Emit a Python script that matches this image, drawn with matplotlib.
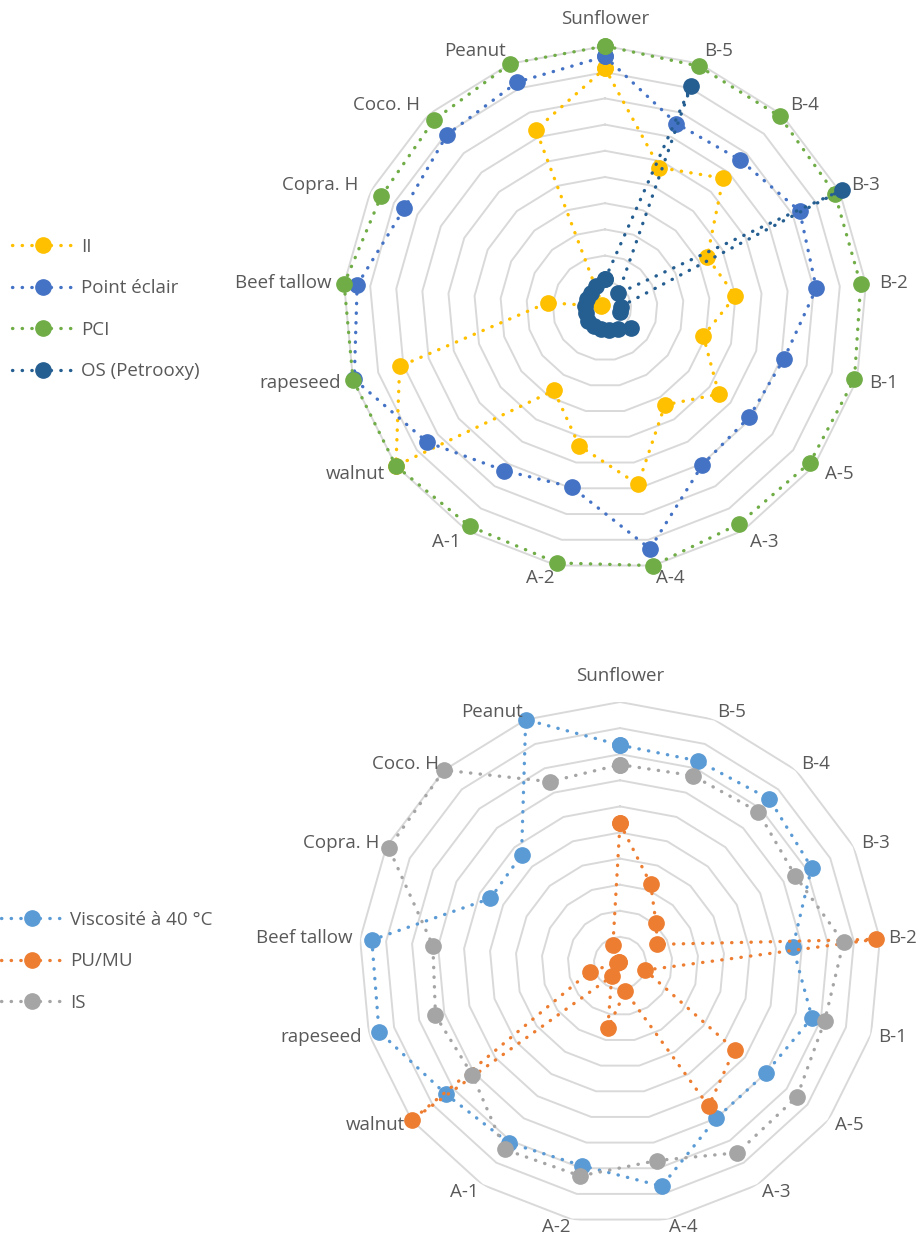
import matplotlib
matplotlib.use("Agg")
import matplotlib.pyplot as plt
import numpy as np

plt.rcParams["font.family"] = ["Open Sans", "DejaVu Sans"]

# ---- data (values on a 0-10 ring scale) ----
categories = ["Sunflower", "B-5", "B-4", "B-3", "B-2", "B-1", "A-5", "A-3", "A-4",
              "A-2", "A-1", "walnut", "rapeseed", "Beef tallow", "Copra. H",
              "Coco. H", "Peanut"]

ii = [9.15, 5.75, 6.7, 4.35, 5.0, 3.9, 5.45, 4.35, 6.85, 5.35, 3.7, 10.0, 8.15, 2.2, 0.15, 0.15, 7.3]
point_eclair = [9.6, 7.55, 7.65, 8.3, 8.1, 7.1, 6.9, 7.05, 9.35, 6.95, 7.3, 8.5, 9.95, 9.5, 8.55, 8.95, 9.25]
pci = [10.0, 9.9, 9.9, 9.8, 9.8, 9.9, 9.8, 9.7, 10.0, 9.9, 9.8, 10.0, 10.0, 10.0, 9.55, 9.7, 10.0]
os_petrooxy = [1.1, 9.1, 0.75, 10.1, 0.6, 0.6, 1.25, 0.95, 0.85, 0.8, 0.8, 0.8, 0.75, 0.75, 0.75, 0.8, 0.9]

viscosite = [8.35, 8.3, 8.5, 8.2, 6.65, 7.65, 7.0, 7.0, 8.7, 7.9, 8.1, 8.35, 9.6, 9.55, 5.55, 5.6, 10.0]
pu_mu = [5.35, 3.25, 2.05, 1.6, 9.85, 1.0, 5.5, 6.45, 1.1, 2.55, 0.6, 10.0, 1.2, 0.1, 0.05, 0.05, 0.75]
is_vals = [7.6, 7.7, 7.85, 7.5, 8.6, 8.15, 8.5, 8.55, 7.7, 8.3, 8.4, 7.1, 7.35, 7.2, 9.9, 10.0, 7.45]

top_names = ["II", "Point éclair", "PCI", "OS (Petrooxy)"]
top_colors = ["#FFC000", "#4472C4", "#70AD47", "#255E91"]
bottom_names = ["Viscosité à 40 °C", "PU/MU", "IS"]
bottom_colors = ["#5B9BD5", "#ED7D31", "#A5A5A5"]

GRID = "#D9D9D9"
TEXT = "#595959"
DOTS = (0, (0.1, 2.8))
FS = 13.5


def radar(ax, series, colors, names, lab_r, top_extra):
    n = len(categories)
    theta = np.arange(n) * 2 * np.pi / n
    closed = np.append(theta, theta[0])
    ax.set_theta_zero_location("N")
    ax.set_theta_direction(-1)
    ax.set_ylim(0, 10)
    ax.grid(False)
    ax.spines["polar"].set_visible(False)
    ax.set_xticks([])
    ax.set_yticks([])

    # polygon rings like the Excel radar grid
    for r in range(1, 11):
        ax.plot(closed, [r] * (n + 1), color=GRID, lw=1.4, zorder=1)

    for vals, c, name in zip(series, colors, names):
        v = np.append(vals, vals[0])
        ax.plot(closed, v, color=c, lw=2.4, ls=DOTS, dash_capstyle="round",
                marker="o", ms=11, label=name, clip_on=False, zorder=3)

    for t, lab in zip(theta, categories):
        s = np.sin(t)
        ha = "left" if s > 0.05 else ("right" if s < -0.05 else "center")
        if np.cos(t) > 0.99:
            ax.text(t, lab_r + top_extra, lab, ha="center", va="bottom", color=TEXT, fontsize=FS)
        else:
            ax.text(t, lab_r, lab, ha=ha, va="center", color=TEXT, fontsize=FS)


W, H = 922, 1238
fig = plt.figure(figsize=(W / 100, H / 100), dpi=100)

ax1 = fig.add_axes([343 / W, 668 / H, 524 / W, 524 / H], projection="polar")
radar(ax1, [ii, point_eclair, pci, os_petrooxy], top_colors, top_names, 10.5, 0.2)

ax2 = fig.add_axes([359 / W, 14 / H, 522 / W, 522 / H], projection="polar")
radar(ax2, [viscosite, pu_mu, is_vals], bottom_colors, bottom_names, 10.3, 0.35)

leg_kw = dict(loc="upper left", frameon=False, fontsize=FS, handlelength=3.3,
              handletextpad=0.4, labelspacing=1.25, borderpad=0, borderaxespad=0,
              labelcolor=TEXT)
h1, l1 = ax1.get_legend_handles_labels()
fig.legend(h1, l1, bbox_to_anchor=(12 / W, 1 - 238 / H), **leg_kw)
h2, l2 = ax2.get_legend_handles_labels()
fig.legend(h2, l2, bbox_to_anchor=(1 / W, 1 - 911 / H), **leg_kw)

fig.savefig("out.png", dpi=100, facecolor="white")
